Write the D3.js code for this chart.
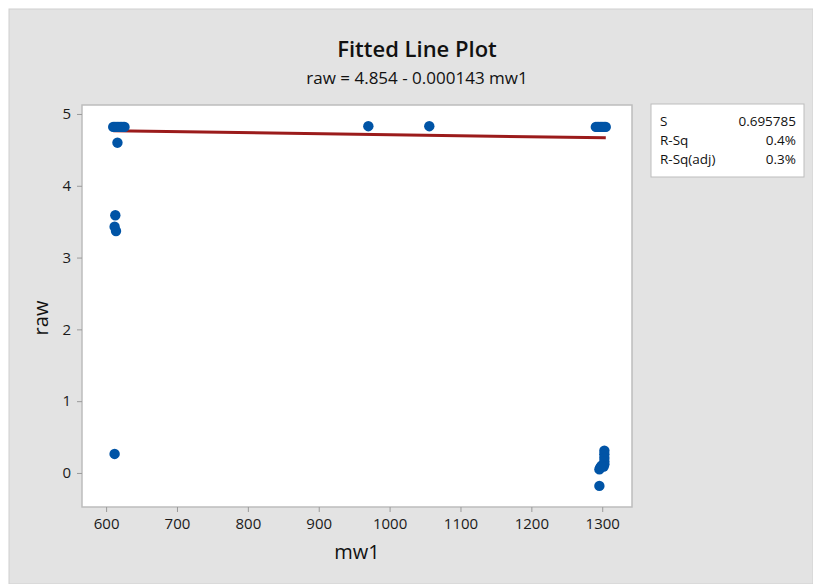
<!DOCTYPE html>
<html><head><meta charset="utf-8">
<script src="https://cdn.jsdelivr.net/npm/d3@7"></script>
<style>body{margin:0;background:#fff;} svg{display:block;font-family:"Open Sans","Noto Sans",sans-serif;}</style>
</head><body>
<script>
// ---- data ----
const mw1 = [610,612,614,616,618,620,622,624,626, 616, 613,612,614, 612,
             970,1056,
             1291,1293,1295,1297,1299,1301,1303,1305,
             1303,1303,1303,1303,1303,1302,1299,1297,1296,1298,1296];
const raw = [4.82,4.82,4.82,4.82,4.82,4.82,4.82,4.82,4.82, 4.60, 3.59,3.43,3.37, 0.265,
             4.83,4.83,
             4.82,4.82,4.82,4.82,4.82,4.82,4.82,4.82,
             0.31,0.26,0.21,0.16,0.12,0.09,0.10,0.07,0.05,0.08,-0.18];
const fitX = [610, 1305];
const fitY = [4.767, 4.668];
const xTicks = [600,700,800,900,1000,1100,1200,1300];
const yTicks = [0,1,2,3,4,5];
const statLabels = ["S","R-Sq","R-Sq(adj)"];
const statValues = ["0.695785","0.4%","0.3%"];
const title = "Fitted Line Plot";
const subtitle = "raw = 4.854 - 0.000143 mw1";

const W = 813, H = 584;
const svg = d3.select("body").append("svg").attr("width", W).attr("height", H);
svg.append("rect").attr("x",0).attr("y",0).attr("width",W).attr("height",H).attr("fill","#fff");
svg.append("rect").attr("x",9).attr("y",9).attr("width",W-9).attr("height",H-9)
  .attr("fill","#e3e3e3").attr("stroke","#d0d0d0").attr("stroke-width",1);

const L = 82, R = 632, T = 105, B = 507;
const x = d3.scaleLinear().domain([566, 1342]).range([L, R]);
const y = d3.scaleLinear().domain([-0.474, 5.125]).range([B, T]);

svg.append("rect").attr("x",L).attr("y",T).attr("width",R-L).attr("height",B-T)
  .attr("fill","#fff").attr("stroke","#bdbdbd").attr("stroke-width",1.5);

const xAxis = svg.append("g").attr("transform",`translate(0,${B})`)
  .call(d3.axisBottom(x).tickValues(xTicks).tickFormat(d3.format("d")).tickSize(5).tickPadding(6));
const yAxis = svg.append("g").attr("transform",`translate(${L},0)`)
  .call(d3.axisLeft(y).tickValues(yTicks).tickFormat(d3.format("d")).tickSize(5).tickPadding(6));
[xAxis,yAxis].forEach(a=>{
  a.select(".domain").remove();
  a.selectAll(".tick line").attr("stroke","#9a9a9a");
  a.selectAll(".tick text").attr("fill","#1a1a1a").style("font-size","15px")
    .style("font-weight","500").style("font-family","Open Sans, sans-serif");
});

// fitted line
svg.append("path")
  .attr("d", d3.line().x(d=>x(d[0])).y(d=>y(d[1]))(fitX.map((v,i)=>[v,fitY[i]])))
  .attr("stroke","#9b1b1b").attr("stroke-width",3).attr("fill","none");

// points
svg.append("g").selectAll("circle").data(mw1.map((v,i)=>[v,raw[i]])).join("circle")
  .attr("cx",d=>x(d[0])).attr("cy",d=>y(d[1])).attr("r",5.2).attr("fill","#0054a6");

// titles
svg.append("text").attr("x",417).attr("y",57).attr("text-anchor","middle")
  .style("font-size","22px").style("font-weight","600").attr("fill","#111").text(title);
svg.append("text").attr("x",417).attr("y",84).attr("text-anchor","middle")
  .style("font-size","17px").style("font-weight","500").attr("fill","#111").text(subtitle);
svg.append("text").attr("x",357).attr("y",559).attr("text-anchor","middle")
  .style("font-size","20px").style("font-weight","500").attr("fill","#111").text("mw1");
svg.append("text").attr("transform","translate(48,318) rotate(-90)").attr("text-anchor","middle")
  .style("font-size","20px").style("font-weight","500").attr("fill","#111").text("raw");

// stats box
const bx = 651, by = 104, bw = 153, bh = 73;
svg.append("rect").attr("x",bx).attr("y",by).attr("width",bw).attr("height",bh)
  .attr("fill","#fff").attr("stroke","#bdbdbd").attr("stroke-width",1);
statLabels.forEach((s,i)=>{
  svg.append("text").attr("x",bx+9).attr("y",by+22+i*19).style("font-size","13.5px").style("font-weight","500").attr("fill","#111").text(s);
  svg.append("text").attr("x",bx+bw-8).attr("y",by+22+i*19).attr("text-anchor","end")
    .style("font-size","13.5px").style("font-weight","500").attr("fill","#111").text(statValues[i]);
});
</script>
</body></html>
